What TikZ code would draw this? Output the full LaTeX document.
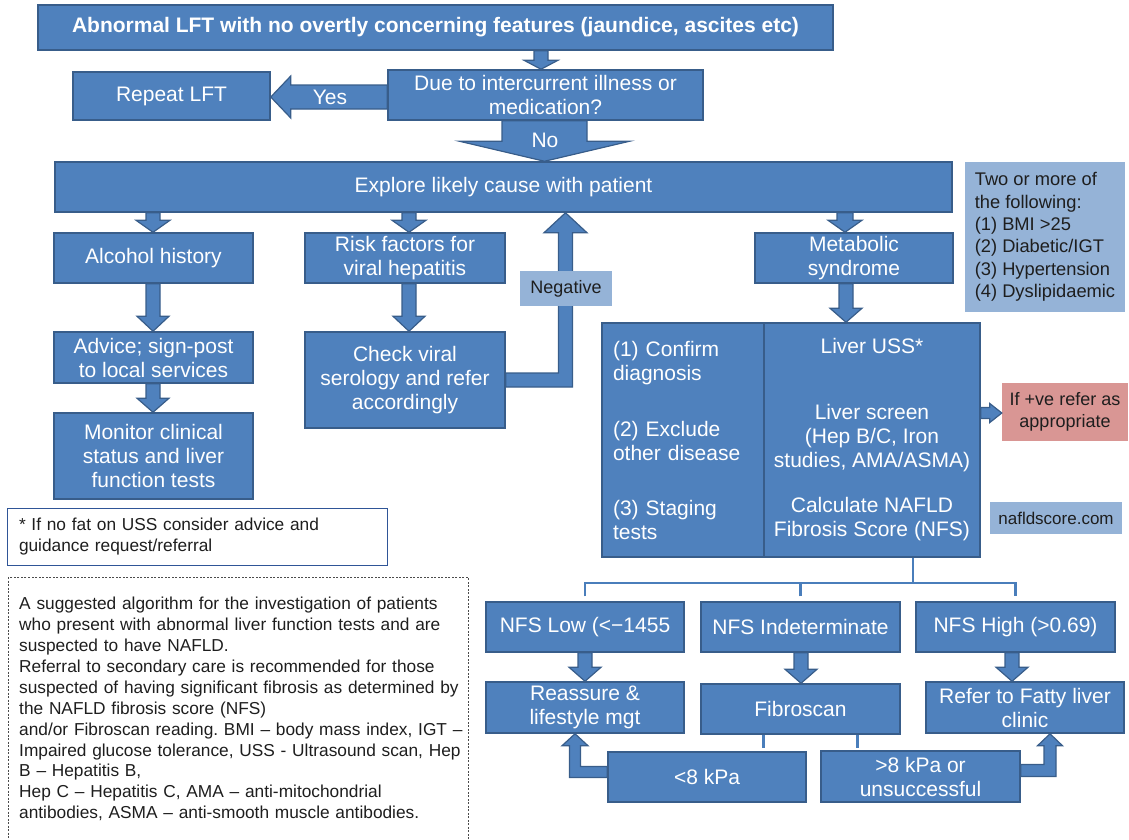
\documentclass[tikz,border=0pt]{standalone}
\usepackage{fontspec}
\setmainfont{Liberation Sans}
\usetikzlibrary{calc,positioning}
\frenchspacing

\definecolor{blu}{HTML}{4F81BD}
\definecolor{bdr}{HTML}{385D8A}
\definecolor{lblu}{HTML}{95B3D7}
\definecolor{pnk}{HTML}{D99694}
\definecolor{ink}{HTML}{1E1E1E}
\definecolor{lnc}{HTML}{4A7EBB}
\definecolor{ftb}{HTML}{2F5597}

\newcommand{\varr}[6]{\draw[blk] let \p1=(#1), \p2=(#2) in
  (#3-#4,\y1) -- (#3-#4,\y2+#6) -- (#3-#5,\y2+#6) -- (#3,\y2)
  -- (#3+#5,\y2+#6) -- (#3+#4,\y2+#6) -- (#3+#4,\y1) -- cycle;}
\newcommand{\harr}[6]{\draw[blk] let \p1=(#1), \p2=(#2) in
  (\x1,#3+#4) -- (\x2+#6,#3+#4) -- (\x2+#6,#3+#5) -- (\x2,#3)
  -- (\x2+#6,#3-#5) -- (\x2+#6,#3-#4) -- (\x1,#3-#4) -- cycle;}
\newcommand{\earr}[6]{\draw[blk] let \p1=(#1), \p2=(#2), \n1={(#3-\x1)/abs(#3-\x1)} in
  (\x1,\y1+#4) -- ({#3-(\n1)*#4},\y1+#4) -- ({#3-(\n1)*#4},\y2-#6) -- ({#3-(\n1)*#5},\y2-#6)
  -- (#3,\y2) -- ({#3+(\n1)*#5},\y2-#6) -- ({#3+(\n1)*#4},\y2-#6) -- ({#3+(\n1)*#4},\y1-#4)
  -- (\x1,\y1-#4) -- cycle;}

\begin{document}
\begin{tikzpicture}[x=1pt,y=1pt,
  box/.style={draw=bdr, fill=blu, line width=1.5pt, text=white, align=center, inner sep=0pt,
    font=\fontsize{21}{24}\selectfont},
  sz/.style 2 args={minimum width=#1pt, minimum height=#2pt},
  pale/.style={fill=lblu, text=ink, inner sep=0pt, font=\fontsize{18}{22.4}\selectfont},
  blk/.style={draw=bdr, fill=blu, line width=1.2pt, line join=miter},
  ln/.style={draw=lnc, line width=2.5pt}]
\useasboundingbox (0,0) rectangle (1129,-839);

\node[box, sz={795}{45}, font=\fontsize{21}{24}\selectfont\bfseries] (LFT) at (435.5,-27.5)
  {Abnormal LFT with no overtly concerning features (jaundice, ascites etc)};
\node[box, sz={315}{50}] (Due) at (545.5,-95) {Due to intercurrent illness or\\medication?};
\node[box, sz={197}{48}] (Rep) at (171.5,-96) {Repeat LFT};
\node[box, sz={897}{50}] (Expl) at (503.5,-187) {Explore likely cause with patient};
\varr{LFT.south}{Due.north}{541}{7}{17}{9}
\harr{Due.west}{Rep.east}{-97}{12}{21}{20}
\node[text=white, font=\fontsize{21}{24}\selectfont] (Yes) at (330,-97) {Yes};
\varr{Due.south}{Expl.north}{544.5}{42.5}{85}{20}
\node[text=white, font=\fontsize{21}{24}\selectfont] (No) at (545,-140) {No};

\node[box, sz={199}{50}] (Alc) at (153.5,-258) {Alcohol history};
\node[box, sz={200}{50}] (Risk) at (405,-258) {Risk factors for\\viral hepatitis};
\node[box, sz={198}{50}] (Met) at (854,-258) {Metabolic\\syndrome};
\node[pale, sz={160}{150}, align=left, font=\fontsize{18.3}{22.4}\selectfont] (Two) at (1045,-237)
  {Two or more of\\the following:\\(1) BMI >25\\(2) Diabetic/IGT\\(3) Hypertension\\(4) Dyslipidaemic};
\node[box, sz={199}{51}] (Adv) at (153.5,-357.5) {Advice; sign-post\\to local services};
\node[box, sz={199}{86}] (Mon) at (153.5,-456) {Monitor clinical\\status and liver\\function tests};
\node[box, sz={200}{96}] (Chk) at (405,-380) {Check viral\\serology and refer\\accordingly};
\varr{Expl.south}{Alc.north}{153}{7}{17}{12}
\varr{Alc.south}{Adv.north}{153}{7}{16}{15}
\varr{Adv.south}{Mon.north}{153}{7}{16}{14}
\varr{Expl.south}{Risk.north}{409}{7}{17}{12}
\varr{Risk.south}{Chk.north}{409}{7}{16}{15}
\earr{Chk.east}{Expl.south}{565.5}{7}{21.5}{20}
\node[pale, sz={92}{35}] (Neg) at (566,-288.5) {Negative};

\node[box, sz={162}{234}, align=left, text width=140pt] (Con) at (683,-440)
  {(1) Confirm\\diagnosis\\[32pt](2) Exclude\\other disease\\[31pt](3) Staging\\tests};
\node[box, sz={216}{234}] (Liv) at (872,-440)
  {Liver USS*\\[42pt]Liver screen\\(Hep B/C, Iron\\studies, AMA/ASMA)\\[21pt]Calculate NAFLD\\Fibrosis Score (NFS)};
\varr{Expl.south}{Met.north}{845}{8}{17}{12}
\varr{Met.south}{Liv.north}{846}{7}{16}{14}
\node[pale, sz={126}{58}, fill=pnk, align=center] (If) at (1065,-412) {If +ve refer as\\appropriate};
\harr{Liv.east}{If.west}{-413}{5.5}{9.5}{-12}
\node[pale, sz={132}{32}, font=\fontsize{17}{20}\selectfont] (Web) at (1056,-518) {nafldscore.com};

\node[draw=ftb, line width=1pt, fill=white, text=ink, sz={380}{57}, text width=356pt, align=left,
  inner sep=0pt, font=\fontsize{17.3}{21}\selectfont] (Fn) at (197,-536.5)
  {* If no fat on USS consider advice and\\guidance request/referral};
\draw[draw=ink!80, line width=0.8pt, dash pattern=on 2pt off 1.5pt] (8,-577) rectangle (468,-870);
\node[anchor=north west, inner sep=0pt, text width=455pt, align=left, text=ink,
  font=\fontsize{17.3}{20.9}\selectfont] (Note) at (19,-597)
  {A suggested algorithm for the investigation of patients\\
   who present with abnormal liver function tests and are\\
   suspected to have NAFLD.\\
   Referral to secondary care is recommended for those\\
   suspected of having significant fibrosis as determined by\\
   the NAFLD fibrosis score (NFS)\\
   and/or Fibroscan reading. BMI – body mass index, IGT –\\
   Impaired glucose tolerance, USS - Ultrasound scan, Hep\\
   B – Hepatitis B,\\
   Hep C – Hepatitis C, AMA – anti-mitochondrial\\
   antibodies, ASMA – anti-smooth muscle antibodies.};

\node[box, sz={198}{50}] (Low) at (585,-627) {NFS Low (<−1455};
\node[box, sz={199}{50}] (Ind) at (800.5,-627) {NFS Indeterminate};
\node[box, sz={199}{50}] (High) at (1015.5,-627) {NFS High (>0.69)};
\coordinate (J) at (913,-583);
\draw[ln] (Liv.south -| J) -- (J);
\draw[ln] ([yshift=5pt]Low.north) |- (J) -| ([yshift=5pt]High.north);
\draw[ln] ([yshift=5pt]Ind.north) -- (Ind.north |- J);

\node[box, sz={198}{51}] (Rea) at (585,-707.5) {Reassure \&\\lifestyle mgt};
\node[box, sz={199}{50}] (Fib) at (800.5,-709) {Fibroscan};
\node[box, sz={198}{51}] (Ref) at (1025,-707.5) {Refer to Fatty liver\\clinic};
\varr{Low.south}{Rea.north}{585}{7}{16}{14}
\varr{Ind.south}{Fib.north}{801}{7}{16}{14}
\varr{High.south}{Ref.north}{1012}{7}{16}{14}

\node[box, sz={198}{50}] (Lt) at (707,-777) {<8 kPa};
\node[box, sz={199}{51}] (Gt) at (920.5,-776.5) {>8 kPa or\\unsuccessful};
\draw[ln] ([xshift=-37pt]Fib.south) -- ++(0,-13);
\draw[ln] ([xshift=57pt]Fib.south) -- ++(0,-13);
\earr{[yshift=5pt]Lt.west}{Rea.south}{575}{5.5}{13}{12}
\earr{[yshift=6pt]Gt.east}{Ref.south}{1050}{6}{12.5}{12}
\end{tikzpicture}
\end{document}
